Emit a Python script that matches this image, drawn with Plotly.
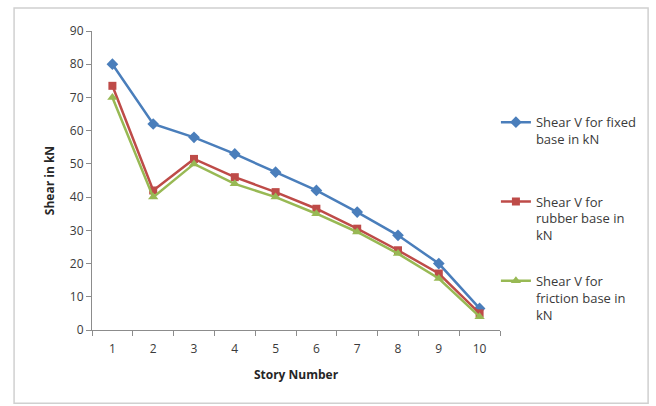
import plotly.graph_objects as go

stories = [1, 2, 3, 4, 5, 6, 7, 8, 9, 10]
story_labels = [str(s) for s in stories]
shear_fixed = [80, 62, 58, 53, 47.5, 42, 35.5, 28.5, 20, 6.5]
shear_rubber = [73.5, 42, 51.5, 46, 41.5, 36.5, 30.5, 24, 17, 5]
shear_friction = [70, 40, 50, 44, 40, 35, 29.5, 23, 15.5, 4]

series = [
    ("Shear V for fixed<br>base in kN", shear_fixed, "#4a7ebb", "diamond", 9, "legend"),
    ("Shear V for<br>rubber base in<br>kN", shear_rubber, "#be4b48", "square", 8, "legend2"),
    ("Shear V for<br>friction base in<br>kN", shear_friction, "#98b954", "triangle-up", 9, "legend3"),
]

fig = go.Figure()
for name, vals, color, symbol, size, leg in series:
    fig.add_trace(go.Scatter(
        x=story_labels, y=vals, name=name, mode="lines+markers",
        line=dict(color=color, width=2.5),
        marker=dict(symbol=symbol, size=size, color=color),
        legend=leg,
    ))

font_family = "Open Sans, DejaVu Sans, sans-serif"
axis_col = "#8c8c8c"
text_col = "#3a3a3a"

leg_common = dict(
    xref="paper", yref="paper", x=0.99, xanchor="left", yanchor="top",
    valign="top", bgcolor="rgba(0,0,0,0)",
    font=dict(family=font_family, size=13, color=text_col),
    itemwidth=30,
)

fig.update_layout(
    width=656, height=406,
    margin=dict(l=92, r=156, t=31, b=76),
    paper_bgcolor="white", plot_bgcolor="white",
    font=dict(family=font_family, size=12, color=text_col),
    showlegend=True,
    legend=dict(y=0.745, **leg_common),
    legend2=dict(y=0.48, **leg_common),
    legend3=dict(y=0.215, **leg_common),
    xaxis=dict(
        type="category", range=[-0.5, 9.5],
        tickson="boundaries", ticks="outside", ticklen=5, tickcolor=axis_col,
        showline=True, linecolor=axis_col, linewidth=1,
        showgrid=False, zeroline=False,
        ticklabelstandoff=8,
        tickfont=dict(size=12, color=text_col),
        title=dict(text="<b>Story Number</b>", font=dict(size=12, color="#262626"), standoff=14),
    ),
    yaxis=dict(
        range=[0, 90], dtick=10,
        ticks="outside", ticklen=5, tickcolor=axis_col,
        showline=True, linecolor=axis_col, linewidth=1,
        showgrid=False, zeroline=False,
        tickfont=dict(size=12, color=text_col),
        title=dict(text="<b>Shear in kN</b>", font=dict(size=12, color="#262626"), standoff=12),
    ),
    shapes=[dict(
        type="rect", xref="paper", yref="paper",
        x0=-0.191, x1=1.363, y0=-0.245, y1=1.077,
        line=dict(color="#d0d0d0", width=1.5), layer="below",
    )],
)

fig.write_html("out.html")
